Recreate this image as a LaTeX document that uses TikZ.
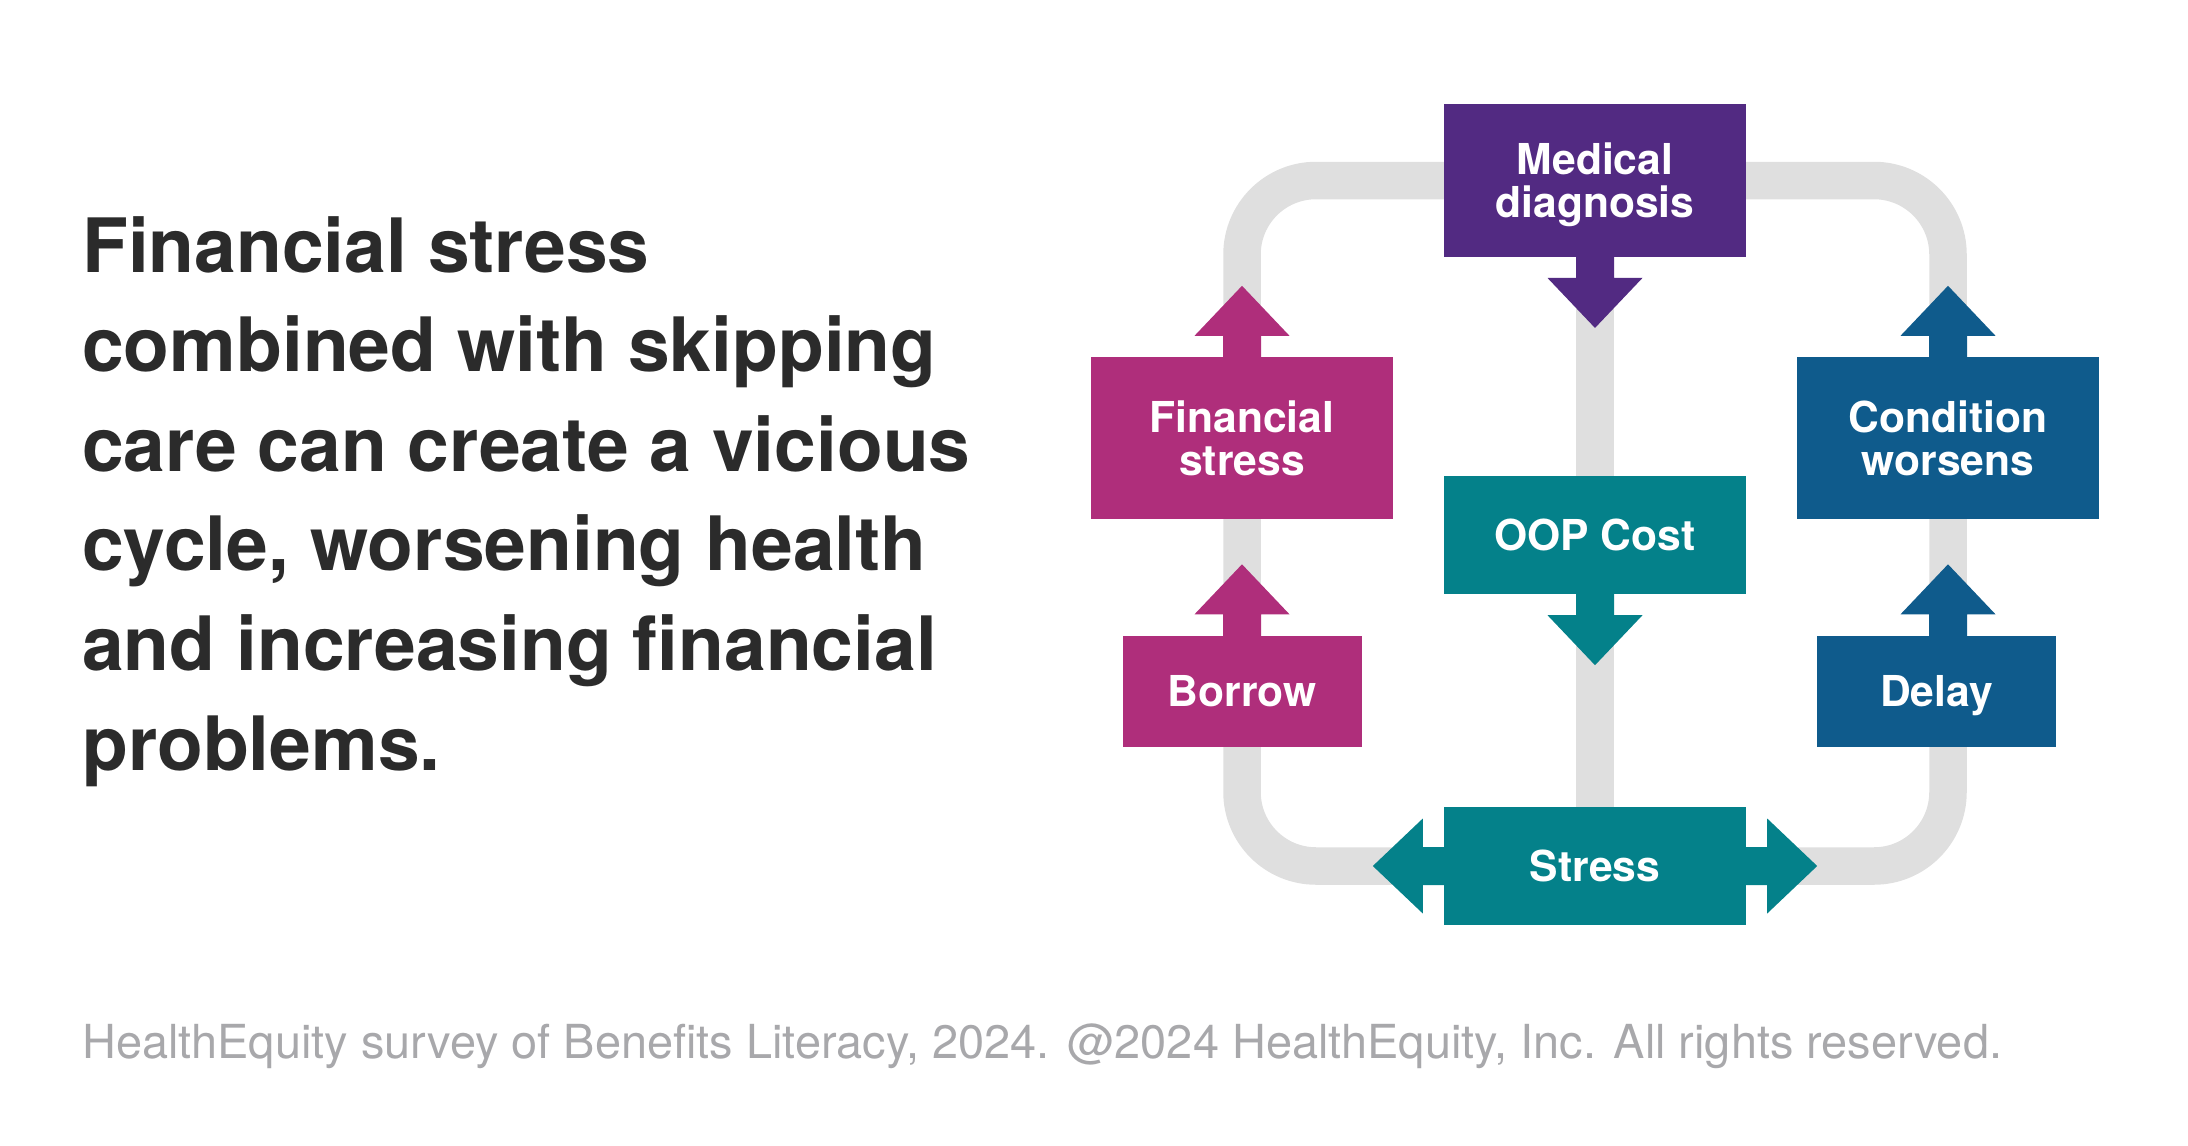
\documentclass[tikz,border=0pt]{standalone}
\usepackage{fontspec}
\setmainfont{TeX Gyre Heros}
\usetikzlibrary{backgrounds}
\definecolor{medpurple}{HTML}{522A82}
\definecolor{finmag}{HTML}{AF2E7B}
\definecolor{condblue}{HTML}{0F5B8C}
\definecolor{oopteal}{HTML}{04818A}
\definecolor{loopgray}{HTML}{DFDFDF}
\definecolor{headdark}{HTML}{2B2B2B}
\definecolor{footgray}{HTML}{A8A8AB}
\tikzset{
  stagebox/.style={inner sep=0, text=white, align=center,
    font=\bfseries\fontsize{42.6}{43}\selectfont},
  oneline/.style={text height=30.7, text depth=0},
  loopline/.style={draw=loopgray, line width=37.5},
  blockarrow/.pic={
    \fill (-19,-1) -- (-19,21) -- (-47.5,21) -- (0,71) -- (47.5,21) -- (19,21) -- (19,-1) -- cycle;
  }
}
\begin{document}
\begin{tikzpicture}[x=1pt,y=-1pt]
\useasboundingbox (0,0) rectangle (2188,1146);

% stage boxes
\node[stagebox, text depth=0, fill=medpurple, minimum width=302, minimum height=152.5] (med) at (1595,180.5) {Medical\\diagnosis};
\node[stagebox, oneline, fill=oopteal, minimum width=302, minimum height=118] (oop) at (1595,535) {OOP Cost};
\node[stagebox, oneline, fill=oopteal, minimum width=302, minimum height=118] (stress) at (1595,866) {Stress};
\node[stagebox, text depth=0, fill=finmag, minimum width=302, minimum height=162] (fin) at (1242,438) {Financial\\stress};
\node[stagebox, text depth=0, fill=condblue, minimum width=302, minimum height=162] (cond) at (1948,438) {Condition\\worsens};
\node[stagebox, oneline, fill=finmag, minimum width=239, minimum height=111] (borrow) at (1242,691) {Borrow};
\node[stagebox, oneline, fill=condblue, minimum width=239, minimum height=111] (delay) at (1936.5,691) {Delay};

% grey cycle behind
\begin{scope}[on background layer]
  \draw[loopline, rounded corners=74] (fin.center |- med.center) rectangle (cond.center |- stress.center);
  \draw[draw=loopgray, line width=38] (med.center) -- (stress.center);
\end{scope}

% block arrows
\pic[color=medpurple] at (med.south) {blockarrow};
\pic[color=oopteal] at (oop.south) {blockarrow};
\pic[color=finmag, rotate=180] at (fin.north) {blockarrow};
\pic[color=finmag, rotate=180] at (borrow.north) {blockarrow};
\pic[color=condblue, rotate=180] at (cond.north) {blockarrow};
\pic[color=condblue, rotate=180] at (cond.center |- delay.north) {blockarrow};
\pic[color=oopteal, rotate=-90] at (stress.west) {blockarrow};
\pic[color=oopteal, rotate=90] at (stress.east) {blockarrow};

% texts
\node[anchor=base west, inner sep=0, align=left, text=headdark,
  font=\bfseries\fontsize{75}{99.6}\selectfont] (head) at (82,770)
  {Financial stress\\combined with skipping\\care can create a vicious\\cycle, worsening health\\and increasing financial\\problems.};
\node[anchor=base west, inner sep=0, text=footgray, font=\fontsize{46.9}{56}\selectfont] (foot) at (82,1058)
  {HealthEquity survey of Benefits Literacy, 2024. @2024 HealthEquity, Inc. All rights reserved.};
\end{tikzpicture}
\end{document}
